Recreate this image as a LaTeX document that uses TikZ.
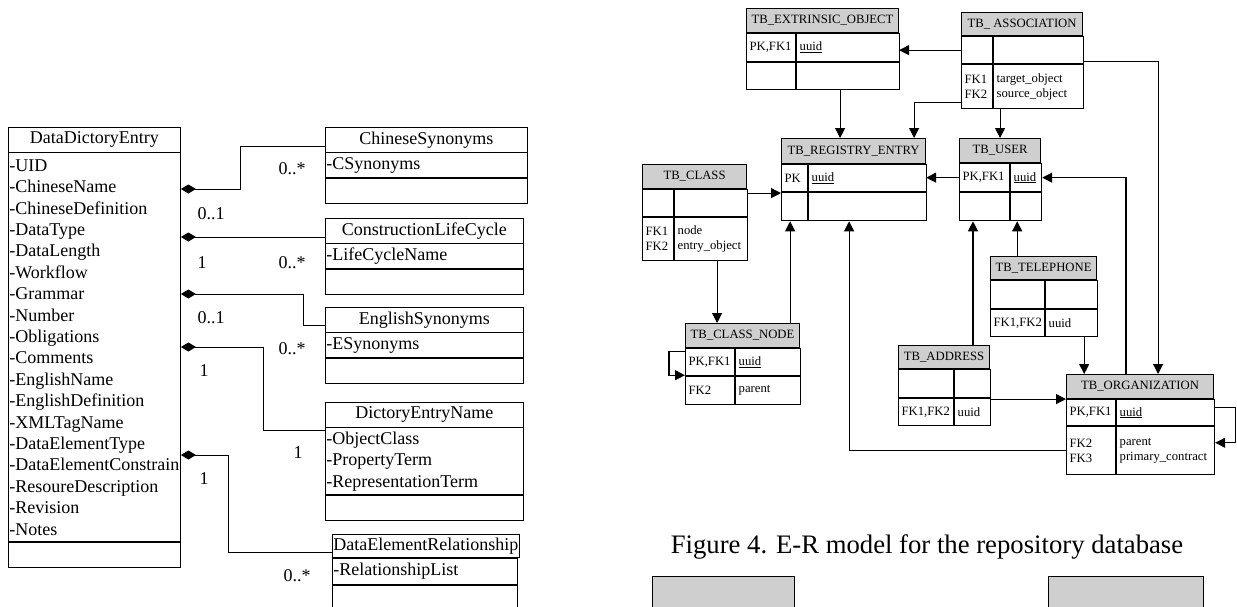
\documentclass[tikz,border=0pt]{standalone}
\usepackage{fontspec}
\setmainfont{Liberation Serif}
\usetikzlibrary{arrows.meta,positioning}
\definecolor{hdrgray}{RGB}{207,207,207}

\begin{document}
\begin{tikzpicture}[x=1pt,y=-1pt,
  uml/.style={draw, line width=0.9pt, anchor=north west, inner sep=1pt, font=\fontsize{18}{21.4}\selectfont},
  utitle/.style={uml, minimum width=#1, minimum height=24.5pt},
  ubody/.style 2 args={uml, align=left, text width=#1, minimum height=#2},
  mult/.style={font=\fontsize{18}{21.4}\selectfont, inner sep=0pt},
  comp/.style={line width=0.9pt, {Diamond[length=15pt,width=9pt]}-},
  thead/.style={draw, fill=hdrgray, line width=1.1pt, anchor=north west, inner sep=0pt, minimum width=#1, font=\fontsize{12.7}{15}\selectfont},
  cell/.style 2 args={draw, line width=1.1pt, anchor=north west, inner xsep=3pt, inner ysep=0pt, align=left, text width=#1, minimum height=#2, font=\fontsize{12.7}{15}\selectfont},
  fk/.style={line width=1.1pt, -{Triangle[length=10pt,width=10pt]}}]
\useasboundingbox (0,0) rectangle (1237,606);

\node[utitle=172pt] (dde) at (8,127) {DataDictoryEntry};
\node[ubody={170pt}{389pt}] (dde_a) at (dde.south west) {-UID\\-ChineseName\\-ChineseDefinition\\-DataType\\-DataLength\\-Workflow\\-Grammar\\-Number\\-Obligations\\-Comments\\-EnglishName\\-EnglishDefinition\\-XMLTagName\\-DataElementType\\-DataElementConstrain\\-ResoureDescription\\-Revision\\-Notes};
\node[ubody={170pt}{24.5pt}] (dde_e) at (dde_a.south west) {};

\node[utitle=202pt] (cs) at (325,127) {ChineseSynonyms};
\node[ubody={200pt}{25pt}] (cs_a) at (cs.south west) {-CSynonyms};
\node[ubody={200pt}{24.5pt}] (cs_e) at (cs_a.south west) {};

\node[utitle=198pt] (clc) at (325,218) {ConstructionLifeCycle};
\node[ubody={196pt}{25pt}] (clc_a) at (clc.south west) {-LifeCycleName};
\node[ubody={196pt}{24.5pt}] (clc_e) at (clc_a.south west) {};

\node[utitle=198pt] (es) at (325,307) {EnglishSynonyms};
\node[ubody={196pt}{24.5pt}] (es_a) at (es.south west) {-ESynonyms};
\node[ubody={196pt}{25pt}] (es_e) at (es_a.south west) {};

\node[utitle=198pt] (den) at (325,402) {DictoryEntryName};
\node[ubody={196pt}{67pt}] (den_a) at (den.south west) {-ObjectClass\\-PropertyTerm\\-RepresentationTerm};
\node[ubody={196pt}{25pt}] (den_e) at (den_a.south west) {};

\node[utitle=185pt, minimum height=23pt] (der) at (332,534) {DataElementRelationship};
\node[ubody={183pt}{26pt}] (der_a) at (der.south west) {-RelationshipList};
\node[ubody={183pt}{25pt}] (der_e) at (der_a.south west) {};

\draw[comp] ([yshift=-62pt]dde.north east) -- ++(60,0) |- ([yshift=-19pt]cs.north west);
\draw[comp] ([yshift=-110pt]dde.north east) -- ([yshift=-19pt]clc.north west);
\draw[comp] ([yshift=-167pt]dde.north east) -- ++(123,0) |- ([yshift=-18pt]es.north west);
\draw[comp] ([yshift=-220pt]dde.north east) -- ++(83,0) |- ([yshift=-28pt]den.north west);
\draw[comp] ([yshift=-328pt]dde.north east) -- ++(48,0) |- ([yshift=-18pt]der.north west);

\node[mult] (m_1) at (292,169) {0..*};
\node[mult] (m_2) at (211,214) {0..1};
\node[mult] (m_3) at (202,263) {1};
\node[mult] (m_4) at (292,263) {0..*};
\node[mult] (m_5) at (211,318) {0..1};
\node[mult] (m_6) at (292,349) {0..*};
\node[mult] (m_7) at (204,371) {1};
\node[mult] (m_8) at (298,453) {1};
\node[mult] (m_9) at (204,479) {1};
\node[mult] (m_10) at (297,576) {0..*};

\node[thead=152pt, minimum height=24pt] (eo) at (746,8) {TB\_EXTRINSIC\_OBJECT};
\node[cell={43pt}{28pt}] (eo_1l) at (eo.south west) {PK,FK1};
\node[cell={97pt}{28pt}] (eo_1r) at (eo_1l.north east) {\underline{uuid}};
\node[cell={43pt}{27pt}] (eo_2l) at (eo_1l.south west) {};
\node[cell={97pt}{27pt}] (eo_2r) at (eo_2l.north east) {};

\node[thead=121pt, minimum height=23pt] (as) at (961,12) {TB\_ ASSOCIATION};
\node[cell={25pt}{27pt}] (as_1l) at (as.south west) {};
\node[cell={84pt}{27pt}] (as_1r) at (as_1l.north east) {};
\node[cell={25pt}{44pt}] (as_2l) at (as_1l.south west) {FK1\\FK2};
\node[cell={84pt}{44pt}] (as_2r) at (as_2l.north east) {target\_object\\source\_object};

\node[thead=144pt, minimum height=25pt] (re) at (781,138) {TB\_REGISTRY\_ENTRY};
\node[cell={20pt}{27pt}] (re_1l) at (re.south west) {PK};
\node[cell={112pt}{27pt}] (re_1r) at (re_1l.north east) {\underline{uuid}};
\node[cell={20pt}{28pt}] (re_2l) at (re_1l.south west) {};
\node[cell={112pt}{28pt}] (re_2r) at (re_2l.north east) {};

\node[thead=81pt, minimum height=24pt] (us) at (959,138) {TB\_USER};
\node[cell={44pt}{28pt}] (us_1l) at (us.south west) {PK,FK1};
\node[cell={25pt}{28pt}] (us_1r) at (us_1l.north east) {\underline{uuid}};
\node[cell={44pt}{28pt}] (us_2l) at (us_1l.south west) {};
\node[cell={25pt}{28pt}] (us_2r) at (us_2l.north east) {};

\node[thead=104pt, minimum height=24pt] (cl) at (642,164) {TB\_CLASS};
\node[cell={25pt}{27pt}] (cl_1l) at (cl.south west) {};
\node[cell={67pt}{27pt}] (cl_1r) at (cl_1l.north east) {};
\node[cell={25pt}{43pt}] (cl_2l) at (cl_1l.south west) {FK1\\FK2};
\node[cell={67pt}{43pt}] (cl_2r) at (cl_2l.north east) {node\\entry\_object};

\node[thead=114pt, minimum height=24pt] (cn) at (685,323) {TB\_CLASS\_NODE};
\node[cell={43pt}{27pt}] (cn_1l) at (cn.south west) {PK,FK1};
\node[cell={59pt}{27pt}] (cn_1r) at (cn_1l.north east) {\underline{uuid}};
\node[cell={43pt}{28pt}] (cn_2l) at (cn_1l.south west) {FK2};
\node[cell={59pt}{28pt}] (cn_2r) at (cn_2l.north east) {parent};

\node[thead=106pt, minimum height=23pt] (tel) at (990,256) {TB\_TELEPHONE};
\node[cell={48pt}{28pt}] (tel_1l) at (tel.south west) {};
\node[cell={46pt}{28pt}] (tel_1r) at (tel_1l.north east) {};
\node[cell={48pt}{27pt}] (tel_2l) at (tel_1l.south west) {FK1,FK2};
\node[cell={46pt}{27pt}] (tel_2r) at (tel_2l.north east) {uuid};

\node[thead=91pt, minimum height=23pt] (ad) at (898,345) {TB\_ADDRESS};
\node[cell={49pt}{28pt}] (ad_1l) at (ad.south west) {};
\node[cell={30pt}{28pt}] (ad_1r) at (ad_1l.north east) {};
\node[cell={49pt}{27pt}] (ad_2l) at (ad_1l.south west) {FK1,FK2};
\node[cell={30pt}{27pt}] (ad_2r) at (ad_2l.north east) {uuid};

\node[thead=147pt, minimum height=24pt] (org) at (1066,374) {TB\_ORGANIZATION};
\node[cell={43pt}{26pt}] (org_1l) at (org.south west) {PK,FK1};
\node[cell={92pt}{26pt}] (org_1r) at (org_1l.north east) {\underline{uuid}};
\node[cell={43pt}{48pt}] (org_2l) at (org_1l.south west) {FK2\\FK3};
\node[cell={92pt}{48pt}] (org_2r) at (org_2l.north east) {parent\\primary\_contract};

\draw[fk] (as_1l.west) -- (as_1l.west -| eo.east);
\draw[fk] ([yshift=7pt]as_2l.south west) -| ([xshift=-12pt]re.north east);
\draw[fk] ([xshift=44pt]eo_2r.south west) -- ([xshift=44pt]eo_2r.south west |- re.north);
\draw[fk] (us.north |- as_2l.south) -- (us.north);
\draw[fk] ([yshift=3pt]as_2r.north east) -| ([xshift=-56pt]org.north east);
\draw[fk] (us_1l.west) -- (us_1l.west -| re.east);
\draw[fk] ([yshift=-4pt]cl_1r.north east) -- ([yshift=-4pt]cl_1r.north east -| re.west);
\draw[fk] ([xshift=43pt]cl_2r.south west) -- ([xshift=43pt]cl_2r.south west |- cn.north);
\draw[fk] ([xshift=-10pt]cn.north east) -- ([xshift=-10pt]cn.north east |- re_2l.south);
\draw[fk] (org_2l.west) -| ([xshift=41pt]re_2r.south west);
\draw[fk] ([xshift=14pt]us_2l.south west |- ad.north) -- ([xshift=14pt]us_2l.south west);
\draw[fk] ([xshift=-25pt]us_2r.south east |- tel.north) -- ([xshift=-25pt]us_2r.south east);
\draw[fk] ([xshift=-14pt]tel_2r.south east) -- ([xshift=-14pt]tel_2r.south east |- org.north);
\draw[fk] ([xshift=60pt]org.north west) |- (us_1r.east);
\draw[fk] (org_1l.north west -| ad.east) -- (org_1l.north west);
\draw[fk] ([yshift=-3pt]cn_1l.north west) -- ++(-16,0) |- ([yshift=1pt]cn_1l.south west);
\draw[fk] ([yshift=-8pt]org_1r.north east) -- ++(20,0) |- ([yshift=8pt]org_2r.east);

\node[font=\fontsize{26.7}{30}\selectfont, anchor=base] (cap) at (927,553) {Figure 4. E-R model for the repository database};

\node[thead=142pt, minimum height=40pt] (nx_a) at (652,576) {};
\node[thead=155pt, minimum height=40pt] (nx_b) at (1048,576) {};
\end{tikzpicture}
\end{document}
